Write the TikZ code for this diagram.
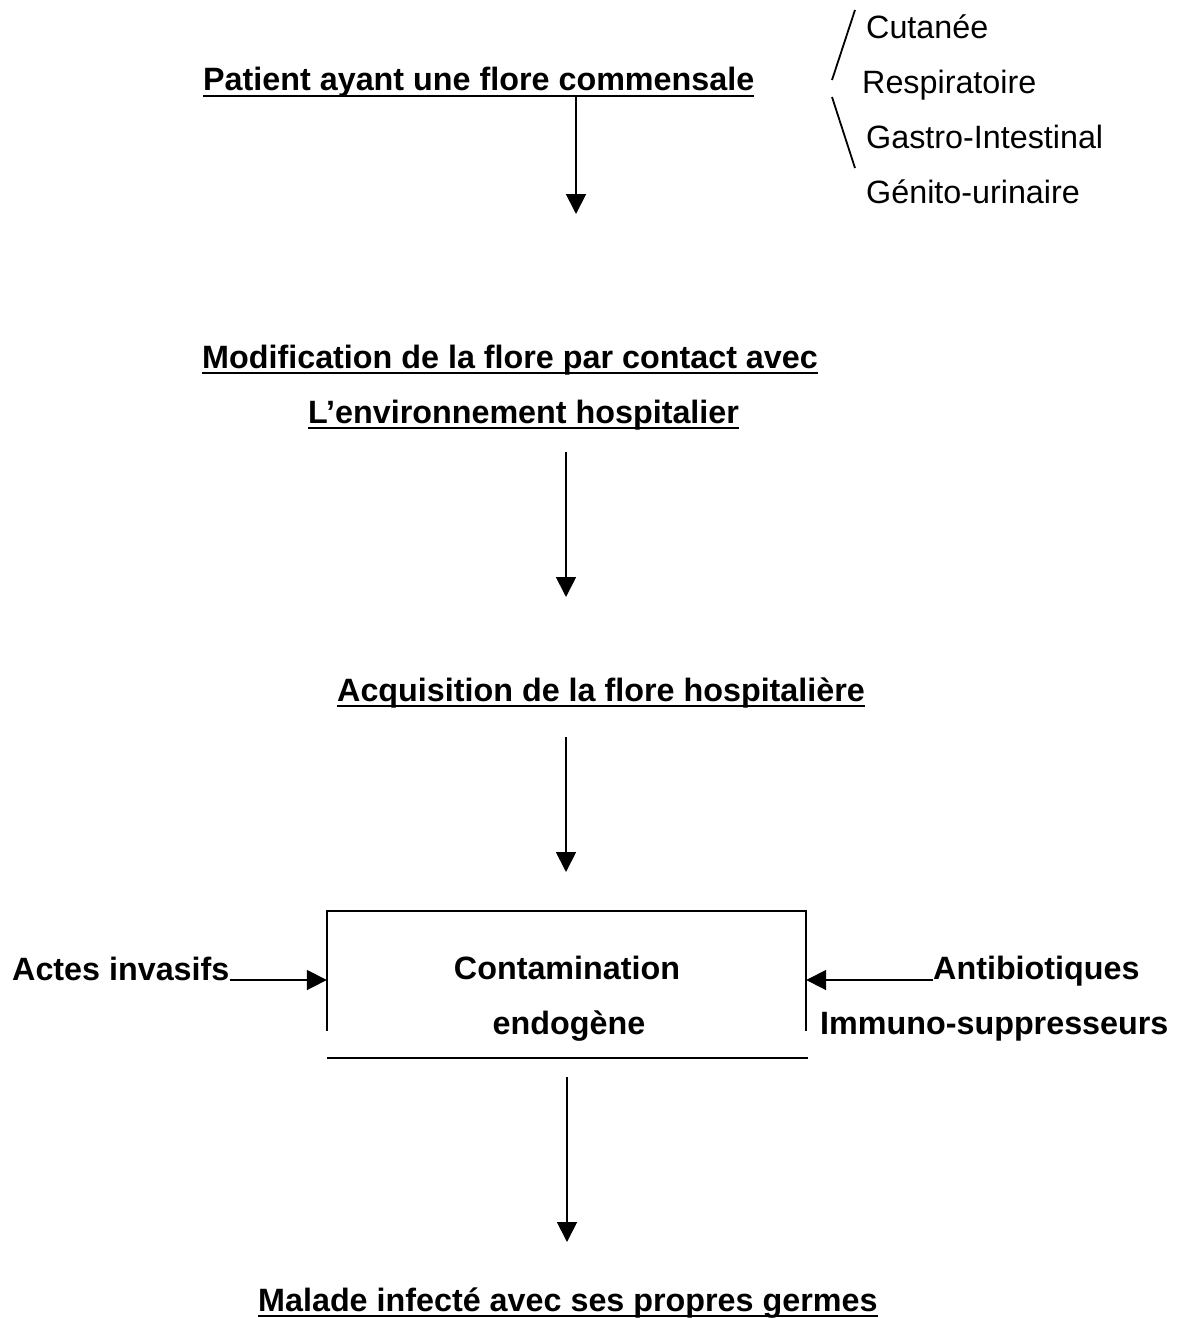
\documentclass[tikz,border=0pt]{standalone}
\usepackage{fontspec}
\setmainfont{Liberation Sans}
\usetikzlibrary{arrows.meta}
\begin{document}
\begin{tikzpicture}[x=1pt,y=-1pt,
  txt/.style={inner sep=0pt,anchor=base west,font=\fontsize{32.3}{38}\selectfont},
  btxt/.style={txt,font=\fontsize{32.3}{38}\selectfont\bfseries},
  arr/.style={line width=1.8pt,-{Triangle[length=20pt,width=20pt]}},
  uline/.style={line width=2pt},
  boxline/.style={line width=2pt}]
\useasboundingbox (0,0) rectangle (1190,1318);
% titles
\node[btxt] (t1) at (203,90) {Patient ayant une flore commensale};
\draw[uline] ([yshift=-6pt]t1.base west) -- ([yshift=-6pt]t1.base east);
\node[btxt] (t2a) at (202,368) {Modification de la flore par contact avec};
\draw[uline] ([yshift=-5pt]t2a.base west) -- ([yshift=-5pt]t2a.base east);
\node[btxt] (t2b) at (308,423) {L’environnement hospitalier};
\draw[uline] ([yshift=-5pt]t2b.base west) -- ([yshift=-5pt]t2b.base east);
\node[btxt] (t3) at (337,701) {Acquisition de la flore hospitalière};
\draw[uline] ([yshift=-5pt]t3.base west) -- ([yshift=-5pt]t3.base east);
\node[btxt] (t5) at (258,1311) {Malade infecté avec ses propres germes};
\draw[uline] ([yshift=-5pt]t5.base west) -- ([yshift=-5pt]t5.base east);
% right list
\node[txt] (l1) at (866,38) {Cutanée};
\node[txt] (l2) at (862,93) {Respiratoire};
\node[txt] (l3) at (866,148) {Gastro-Intestinal};
\node[txt] (l4) at (866,203) {Génito-urinaire};
\coordinate (s1a) at (855,10); \coordinate (s1b) at (832,80);
\coordinate (s2a) at (832,97); \coordinate (s2b) at (855,168);
\draw[line width=1.8pt] (s1a) -- (s1b);
\draw[line width=1.8pt] (s2a) -- (s2b);
% vertical arrows
\coordinate (a1s) at (576,97);  \coordinate (a1e) at (576,214);
\coordinate (a2s) at (566,452); \coordinate (a2e) at (566,597);
\coordinate (a3s) at (566,737); \coordinate (a3e) at (566,872);
\coordinate (a4s) at (567,1077); \coordinate (a4e) at (567,1242);
\draw[arr] (a1s) -- (a1e);
\draw[arr] (a2s) -- (a2e);
\draw[arr] (a3s) -- (a3e);
\draw[arr] (a4s) -- (a4e);
% box
\node[minimum width=479pt,minimum height=120pt,inner sep=0pt] (box) at (566.5,971) {};
\draw[boxline] (box.south west) -- (box.north west) -- (box.north east) -- (box.south east);
\coordinate (bl1) at (327,1058); \coordinate (bl2) at (808,1058);
\draw[boxline] (bl1) -- (bl2);
\node[btxt,anchor=base] (c1) at (567,979) {Contamination};
\node[btxt,anchor=base] (c2) at (569,1034) {endogène};
% side inputs
\node[btxt] (act) at (12,980) {Actes invasifs};
\node[btxt] (anti) at (933,979) {Antibiotiques};
\node[btxt] (imm) at (820,1034) {Immuno-suppresseurs};
\draw[arr] (act.base east) -- (act.base east -| box.west);
\draw[arr] ([yshift=-1pt]anti.base west) -- ([yshift=-1pt]anti.base west -| box.east);
\end{tikzpicture}
\end{document}
